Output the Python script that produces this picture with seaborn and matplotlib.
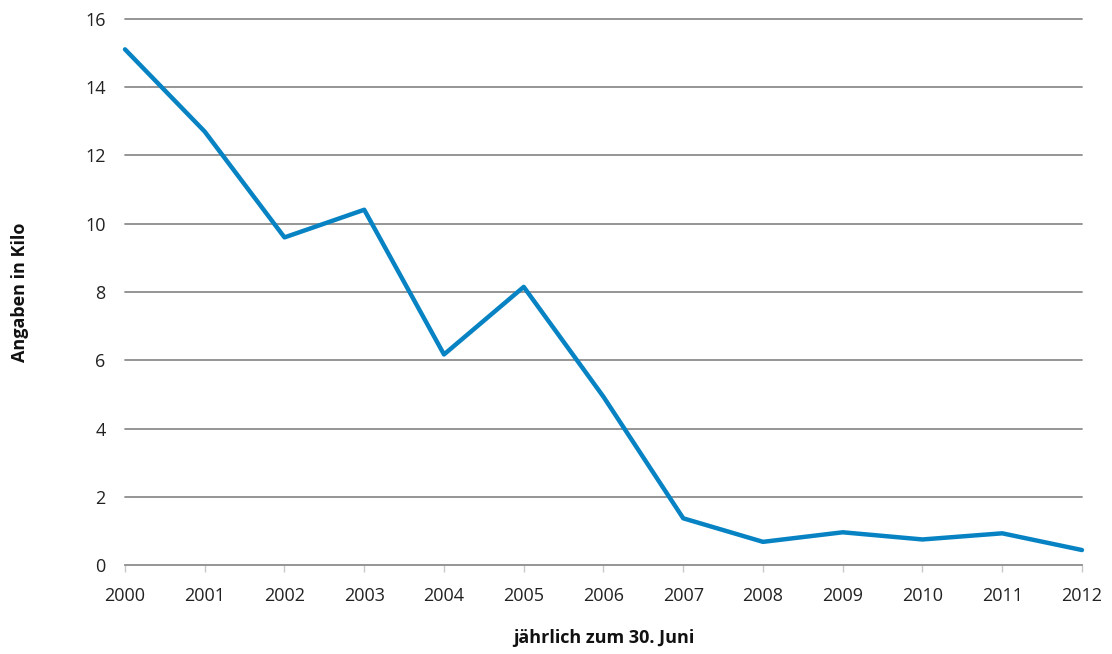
import matplotlib
matplotlib.use("Agg")
import matplotlib.pyplot as plt
import seaborn as sns
import pandas as pd

years = [2000, 2001, 2002, 2003, 2004, 2005, 2006, 2007, 2008, 2009, 2010, 2011, 2012]
values = [15.11, 12.70, 9.60, 10.41, 6.17, 8.15, 4.93, 1.37, 0.68, 0.96, 0.75, 0.93, 0.44]
y_ticks = [0, 2, 4, 6, 8, 10, 12, 14, 16]
x_label = "jährlich zum 30. Juni"
y_label = "Angaben in Kilo"

sns.set_theme(style="white")
plt.rcParams['font.family'] = ['Open Sans', 'DejaVu Sans']

df = pd.DataFrame({"Jahr": years, "Wert": values})

fig = plt.figure(figsize=(11.12, 6.54), dpi=100)
ax = fig.add_axes([0.1124, 0.136, 0.8606, 0.835])

for t in y_ticks[1:]:
    ax.axhline(t, color="#8c8c8c", lw=1.3, zorder=1)

sns.lineplot(data=df, x="Jahr", y="Wert", ax=ax, color="#0783c4", lw=3.2, zorder=3)

ax.set_xlim(2000, 2012)
ax.set_ylim(0, 16)
ax.set_yticks(y_ticks)
ax.set_xticks(years)
ax.set_xticklabels([str(y) for y in years])
for s in ["top", "right", "left"]:
    ax.spines[s].set_visible(False)
ax.spines["bottom"].set_color("#8c8c8c")
ax.spines["bottom"].set_linewidth(1.3)
ax.tick_params(axis="x", which="major", bottom=True, length=5, width=1, color="#c8c8c8",
               labelsize=13, labelcolor="#222222", pad=11)
ax.tick_params(axis="y", left=False, labelsize=13, labelcolor="#222222", pad=8)
ax.set_xlabel(x_label, fontsize=13, fontweight="bold", color="#111111", labelpad=17)
ax.set_ylabel(y_label, fontsize=13, fontweight="bold", color="#111111", labelpad=40)
ax.patch.set_alpha(0)
for l in ax.lines:
    l.set_clip_on(False)

fig.savefig("out.png", dpi=100)
